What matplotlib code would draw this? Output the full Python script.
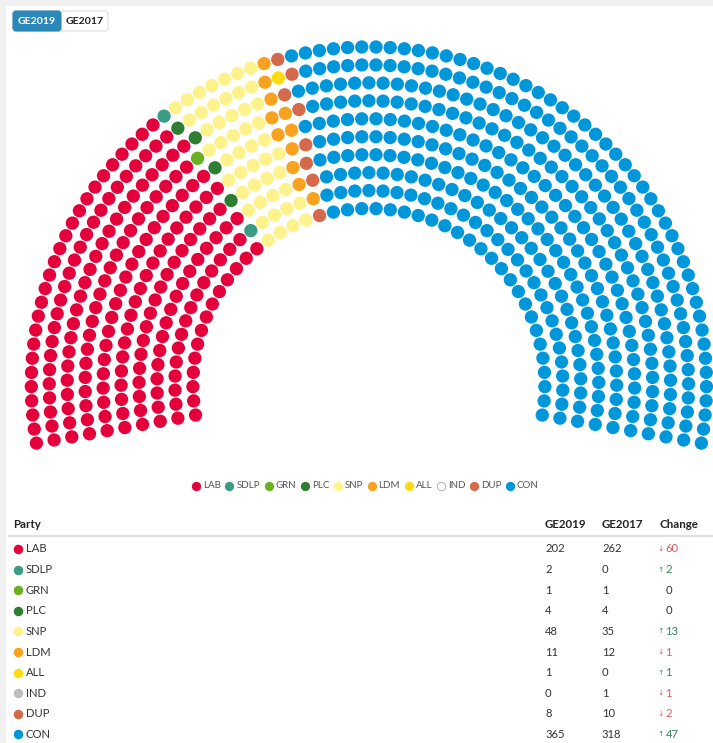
import numpy as np
import matplotlib
matplotlib.use('Agg')
import matplotlib.pyplot as plt
from matplotlib.patches import FancyBboxPatch, Rectangle

# ---------------- data ----------------
parties = ['LAB', 'SDLP', 'GRN', 'PLC', 'SNP', 'LDM', 'ALL', 'IND', 'DUP', 'CON']
seats_2019 = [202, 2, 1, 4, 48, 11, 1, 0, 8, 365]
seats_2017 = [262, 0, 1, 4, 35, 12, 0, 1, 10, 318]
colors = ['#E4003B', '#3A9C84', '#6AB023', '#2E7D32', '#FDF28C', '#F9A21F',
          '#FFDC0F', '#BDBDBD', '#D4694B', '#0096DA']
buttons = ['GE2019', 'GE2017']
headers = ['Party', 'GE2019', 'GE2017', 'Change']

FONT = ['Lato', 'DejaVu Sans']
plt.rcParams['font.family'] = FONT

W, H = 713, 743
fig = plt.figure(figsize=(W / 100, H / 100), dpi=100, facecolor='#f1f1f1')
ax = fig.add_axes([0, 0, 1, 1])
ax.set_xlim(0, W)
ax.set_ylim(H, 0)
ax.axis('off')
ax.add_patch(Rectangle((6, 6), W - 6, H - 6, facecolor='white', edgecolor='none', zorder=0))

px = 0.72  # points per pixel at dpi 100

# ---------------- buttons ----------------
ax.add_patch(FancyBboxPatch((13, 11), 95, 20, boxstyle='round,pad=0,rounding_size=3',
                            facecolor='white', edgecolor='#dddddd', lw=0.8, zorder=2))
ax.add_patch(FancyBboxPatch((13, 11), 48, 20, boxstyle='round,pad=0,rounding_size=3',
                            facecolor='#2B88B9', edgecolor='#2B88B9', lw=0.8, zorder=3))
ax.text(37, 21.5, buttons[0], color='white', fontsize=10.5 * px, fontweight='bold',
        ha='center', va='center', zorder=4)
ax.text(84.5, 21.5, buttons[1], color='#222222', fontsize=10.5 * px, fontweight='bold',
        ha='center', va='center', zorder=4)

# ---------------- parliament (item) layout ----------------
total = sum(seats_2019)
n_rows = 10
cx, cy = 368.9, 384.5
r_in, r_out = 176.0, 337.6
a0, a1 = np.deg2rad(-100), np.deg2rad(100)
radii = np.linspace(r_in, r_out, n_rows)
# number of gaps (columns) per row proportional to row radius
n_cols_total = total - n_rows
quota = n_cols_total * radii / radii.sum()
cols = np.floor(quota).astype(int)
rem = n_cols_total - cols.sum()
order = np.argsort(-(quota - cols), kind='stable')
cols[order[:rem]] += 1

slots = []
for ri in range(n_rows - 1, -1, -1):  # outer rows first
    r, c = radii[ri], cols[ri]
    for j in range(c + 1):
        slots.append((a0 + j * (a1 - a0) / c, r))
slots.sort(key=lambda t: round(t[0], 9))
angs = np.array([s[0] for s in slots])
rads = np.array([s[1] for s in slots])
xs = cx + rads * np.sin(angs)
ys = cy - rads * np.cos(angs)
seat_colors = np.repeat(colors, seats_2019)
ax.scatter(xs, ys, s=(13.3 * px) ** 2, c=list(seat_colors), linewidths=0, zorder=3)

# ---------------- legend ----------------
fig.canvas.draw()
renderer = fig.canvas.get_renderer()
leg_y = 486
items = []
for p in parties:
    t = ax.text(0, leg_y, p, fontsize=9.8 * px, color='#555555', va='center', ha='left')
    w = t.get_window_extent(renderer).width
    items.append((t, w))
gap_dot_text = 7.0
gap_item = 4.0
total_w = sum(4.5 + gap_dot_text + w + gap_item for _, w in items) - gap_item
x = 365 - total_w / 2
for (t, w), p, c in zip(items, parties, colors):
    dx = x + 4.5
    if p == 'IND':
        ax.scatter([dx], [leg_y], s=(8.3 * px) ** 2, facecolor='white', edgecolor='#bbbbbb',
                   linewidths=0.8, zorder=3)
    else:
        ax.scatter([dx], [leg_y], s=(9.3 * px) ** 2, c=c, linewidths=0, zorder=3)
    t.set_x(dx + gap_dot_text)
    x = dx + gap_dot_text + w + gap_item

# ---------------- table ----------------
hdr_y = 524.5
col_x = [13, 545, 602, 659]
for h, xx in zip(headers, col_x):
    ax.text(xx, hdr_y, h, fontsize=11.5 * px, fontweight='bold', color='#222222',
            va='center', ha='left')
ax.plot([8, W], [535.5, 535.5], color='#e2e2e2', lw=2.2 * px, solid_capstyle='butt', zorder=2)

row_y0, row_dy = 549, 20.6
txt_c = '#333333'
for i, (p, s19, s17, c) in enumerate(zip(parties, seats_2019, seats_2017, colors)):
    y = row_y0 + i * row_dy
    ax.scatter([17.5], [y], s=(9.5 * px) ** 2, c=c, linewidths=0, zorder=3)
    ax.text(26, y, p, fontsize=11.2 * px, color=txt_c, va='center', ha='left')
    ax.text(545, y, str(s19), fontsize=11.2 * px, color=txt_c, va='center', ha='left')
    ax.text(602, y, str(s17), fontsize=11.2 * px, color=txt_c, va='center', ha='left')
    d = s19 - s17
    if d > 0:
        col = '#2E8B57'
        ax.text(657.5, y, '\u2191', fontsize=7.5 * px, color=col, va='center', ha='left',
                family='DejaVu Sans')
        ax.text(665.5, y, str(d), fontsize=11.2 * px, color=col, va='center', ha='left')
    elif d < 0:
        col = '#E0575B'
        ax.text(657.5, y, '\u2193', fontsize=7.5 * px, color=col, va='center', ha='left',
                family='DejaVu Sans')
        ax.text(665.5, y, str(-d), fontsize=11.2 * px, color=col, va='center', ha='left')
    else:
        ax.text(665.5, y, '0', fontsize=11.2 * px, color=txt_c, va='center', ha='left')

fig.savefig('out.png', dpi=100, facecolor=fig.get_facecolor())
